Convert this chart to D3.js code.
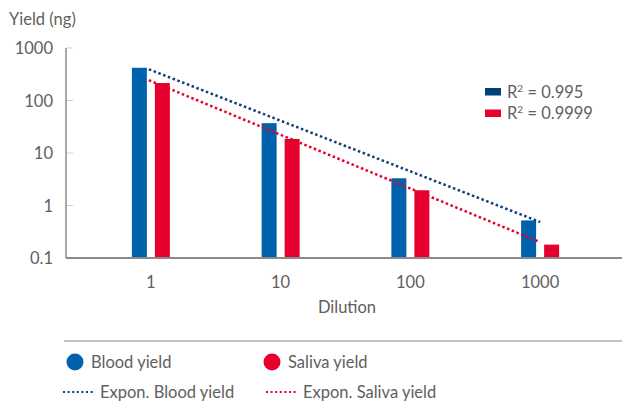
<!DOCTYPE html>
<html>
<head>
<meta charset="utf-8">
<script src="https://cdn.jsdelivr.net/npm/d3@7"></script>
<style>
  body { margin: 0; background: #fff; }
  svg text { font-family: "Lato", "Noto Sans", sans-serif; fill: #606060; }
</style>
</head>
<body>
<script>
// values
const dilutions = ["1", "10", "100", "1000"];
const bloodYield = [420, 37, 3.3, 0.52];
const salivaYield = [215, 18.5, 1.95, 0.18];
// trend lines, value at first and last dilution
const bloodTrend = [393, 0.485];
const salivaTrend = [243, 0.2];
const yTicks = [0.1, 1, 10, 100, 1000];
const r2Labels = ["0.995", "0.9999"];

const width = 622, height = 401;
const blue = "#0061ad", red = "#e6002d", navy = "#103f77";
const fs = 16.5;

const svg = d3.select("body").append("svg")
  .attr("width", width)
  .attr("height", height);

const x = d3.scaleBand().domain(dilutions).range([86, 605]);
const xSub = d3.scaleBand().domain(["blood", "saliva"]).range([-19, 19]).paddingInner(0.348);
const y = d3.scaleLog().domain([0.1, 1000]).range([258, 48]);
const cx = d => x(d) + x.bandwidth() / 2;

// y axis title
svg.append("text")
  .attr("x", 9).attr("y", 25)
  .attr("font-size", fs)
  .text("Yield (ng)");

// y ticks
const yg = svg.append("g");
yg.selectAll("line.tick").data(yTicks.slice(1)).join("line")
  .attr("x1", 66).attr("x2", 73)
  .attr("y1", d => y(d)).attr("y2", d => y(d))
  .attr("stroke", "#d0d0d0").attr("stroke-width", 1);
yg.selectAll("text").data(yTicks).join("text")
  .attr("x", 53).attr("y", d => y(d) + 6)
  .attr("text-anchor", "end")
  .attr("font-size", fs)
  .text(d => d3.format("~g")(d));

// bars
const groups = svg.append("g").selectAll("g").data(dilutions).join("g")
  .attr("transform", d => "translate(" + cx(d) + ",0)");
groups.append("rect")
  .attr("x", xSub("blood"))
  .attr("width", xSub.bandwidth())
  .attr("y", (d, i) => y(bloodYield[i]))
  .attr("height", (d, i) => y(0.1) - y(bloodYield[i]))
  .attr("fill", blue);
groups.append("rect")
  .attr("x", xSub("saliva"))
  .attr("width", xSub.bandwidth())
  .attr("y", (d, i) => y(salivaYield[i]))
  .attr("height", (d, i) => y(0.1) - y(salivaYield[i]))
  .attr("fill", red);

// axis lines
svg.append("line")
  .attr("x1", 66).attr("x2", 66).attr("y1", y(1000)).attr("y2", y(0.1))
  .attr("stroke", "#8a8a8a").attr("stroke-width", 1.5);
svg.append("line")
  .attr("x1", 66).attr("x2", 622).attr("y1", y(0.1)).attr("y2", y(0.1))
  .attr("stroke", "#8a8a8a").attr("stroke-width", 2);

// trend lines
const first = dilutions[0], last = dilutions[dilutions.length - 1];
[[bloodTrend, navy], [salivaTrend, red]].forEach(([t, c]) => {
  svg.append("line")
    .attr("x1", cx(first) - 2).attr("y1", y(t[0]))
    .attr("x2", cx(last)).attr("y2", y(t[1]))
    .attr("stroke", c)
    .attr("stroke-width", 2.5)
    .attr("stroke-dasharray", "2.5,2.6");
});

// x labels
svg.append("g").selectAll("text").data(dilutions).join("text")
  .attr("x", d => cx(d)).attr("y", 288)
  .attr("text-anchor", "middle")
  .attr("font-size", fs)
  .text(d => d);
svg.append("text")
  .attr("x", 347).attr("y", 313)
  .attr("text-anchor", "middle")
  .attr("font-size", fs)
  .text("Dilution");

// R² legend
const r2 = svg.append("g").selectAll("g").data(r2Labels).join("g")
  .attr("transform", (d, i) => "translate(485," + (88 + i * 21.5) + ")");
r2.append("rect")
  .attr("width", 16).attr("height", 7.5)
  .attr("fill", (d, i) => i === 0 ? "#003f7d" : red);
r2.append("text")
  .attr("x", 22).attr("y", 9.5)
  .attr("font-size", fs)
  .html(d => "R<tspan dy='-6' font-size='10'>2</tspan><tspan dy='6'> = " + d + "</tspan>");

// bottom legend
svg.append("line")
  .attr("x1", 64).attr("x2", 622).attr("y1", 341).attr("y2", 341)
  .attr("stroke", "#8a8a8a").attr("stroke-width", 1.2);

const legendItems = [
  {label: "Blood yield", color: blue, x: 75, type: "dot"},
  {label: "Saliva yield", color: red, x: 272, type: "dot"},
  {label: "Expon. Blood yield", color: navy, x: 63, type: "line"},
  {label: "Expon. Saliva yield", color: red, x: 266, type: "line"}
];
legendItems.forEach(it => {
  if (it.type === "dot") {
    svg.append("circle")
      .attr("cx", it.x).attr("cy", 362).attr("r", 8.5)
      .attr("fill", it.color);
    svg.append("text")
      .attr("x", it.x + 16).attr("y", 368)
      .attr("font-size", fs)
      .text(it.label);
  } else {
    svg.append("line")
      .attr("x1", it.x).attr("x2", it.x + 30).attr("y1", 392).attr("y2", 392)
      .attr("stroke", it.color).attr("stroke-width", 2)
      .attr("stroke-dasharray", "2,2.6");
    svg.append("text")
      .attr("x", it.x + 37).attr("y", 398)
      .attr("font-size", fs)
      .text(it.label);
  }
});
</script>
</body>
</html>
